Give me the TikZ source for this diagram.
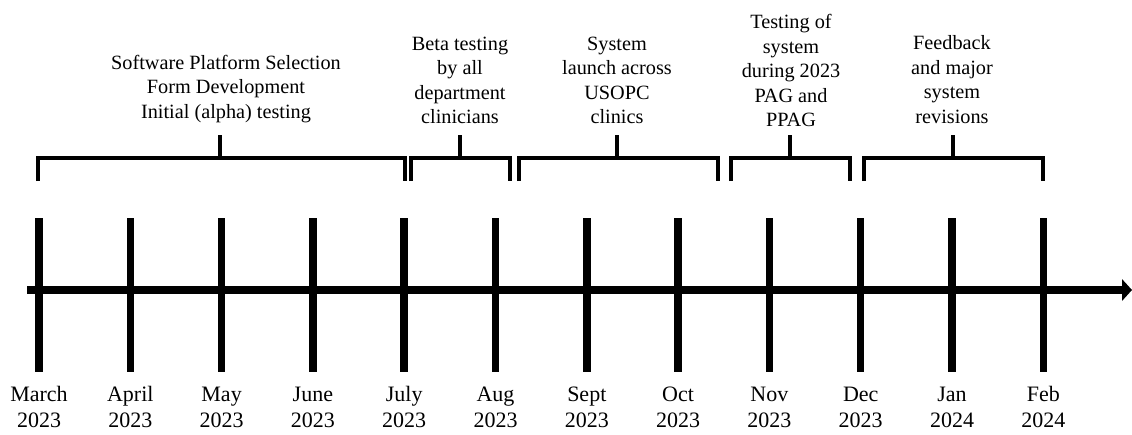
\documentclass[tikz,border=0pt]{standalone}
\usepackage{fontspec}
\setmainfont{Liberation Serif}
\usetikzlibrary{arrows.meta}
\begin{document}
\begin{tikzpicture}[x=0.75pt,y=-0.75pt,
  tickline/.style={line width=5.6pt},
  axisline/.style={line width=5.4pt,-{Triangle[length=7.5pt,width=16pt]}},
  bracketline/.style={line width=3pt,line join=miter},
  phase/.style={anchor=south,align=center,inner sep=0pt,font=\fontsize{15.2}{18.4}\selectfont},
  month/.style={anchor=south,align=center,inner sep=0pt,font=\fontsize{16.5}{19.8}\selectfont}]
\useasboundingbox (0,0) rectangle (1132,435);

% time axis
\coordinate (axstart) at (27,290);
\coordinate (axend) at (1132,290);
\draw[axisline] (axstart) -- (axend);

% month ticks and labels
\foreach \i/\m/\yr in {0/March/2023,1/April/2023,2/May/2023,3/June/2023,
    4/July/2023,5/Aug/2023,6/Sept/2023,7/Oct/2023,8/Nov/2023,9/Dec/2023,
    10/Jan/2024,11/Feb/2024}{
  \coordinate (top\i) at ({39+91.3*\i},218);
  \coordinate (bot\i) at ({39+91.3*\i},372);
  \draw[tickline] (top\i) -- (bot\i);
  \node[month] (m\i) at ({39+91.3*\i},428) {\m\\\yr};
}

% phase brackets: left end, right end, stub position
\foreach \k/\a/\b/\c in {1/38/405/220,2/411/510/460,3/519/718/617,
    4/731/850/790,5/864/1043/953}{
  \coordinate (bl\k) at (\a,181);
  \coordinate (br\k) at (\b,181);
  \coordinate (bm\k) at (\c,158);
  \coordinate (bs\k) at (\c,135);
  \draw[bracketline] (bl\k) |- (bm\k) -| (br\k);
  \draw[bracketline] (bm\k) -- (bs\k);
}

% phase descriptions
\node[phase] (p1) at (226,126) {Software Platform Selection\\Form Development\\Initial (alpha) testing\strut};
\node[phase] (p2) at (460,131.5) {Beta testing\\by all\\department\\clinicians\strut};
\node[phase] (p3) at (617,131.5) {System\\launch across\\USOPC\\clinics\strut};
\node[phase] (p4) at (791,134.5) {Testing of\\system\\during 2023\\PAG and\\PPAG\strut};
\node[phase] (p5) at (952,131) {Feedback\\and major\\system\\revisions\strut};
\end{tikzpicture}
\end{document}
